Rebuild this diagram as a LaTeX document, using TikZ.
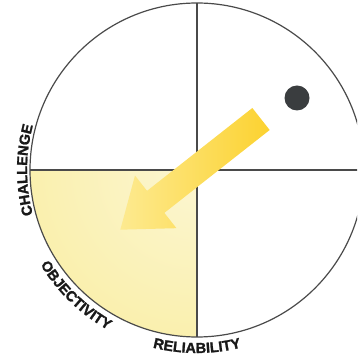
\documentclass[tikz,border=0pt]{standalone}
\usepackage{fontspec}
\setmainfont{Liberation Sans}
\newfontfamily\labelface[BoldFeatures={FakeBold=1.5}]{Liberation Sans}
\usepackage{tikz}
\usetikzlibrary{positioning,calc,decorations.text}

\definecolor{lineGray}{HTML}{4A4A4A}
\definecolor{dotGray}{HTML}{3A3D3F}
\definecolor{quadPale}{HTML}{FCF6D2}
\definecolor{quadYellow}{HTML}{F7EA8A}
\definecolor{arrowHead}{HTML}{FCD230}
\definecolor{arrowTail}{HTML}{FDEA90}
\newcommand{\labelfont}{\labelface\bfseries\fontsize{14.5}{17}\selectfont\color{black!90}}

\begin{document}
\begin{tikzpicture}[x=1pt,y=1pt,
    axis/.style={draw=lineGray,line width=1.2pt},
    arclabel/.style={decorate,decoration={text along path,text align=center,text={|\labelfont|#1}}}]
                        \useasboundingbox (0,0) rectangle (357,358);
                        \clip (0,0) rectangle (357,358);
                        \coordinate (C) at (197,188);
                        \begin{scope}
                            \clip (C) -- ++(-167,0) arc[start angle=180,end angle=270,radius=167] -- cycle;
                            \shade[inner color=quadPale,outer color=quadYellow] (C) circle (334);
                        \end{scope}
                        \draw[axis] (C) ++(0,167) -- ++(0,-334);
                        \draw[axis] (C) ++(-167,0) -- ++(334,0);
                        \draw[axis] (C) circle (167);
                        \fill[dotGray] (297,260) circle (12.5);
                        \begin{scope}[shift={(261,239)},rotate=218.2]
                            \shade[left color=arrowTail,right color=arrowHead]
                                (0,14) -- (134,14) -- (134,33.5) -- (179,0) -- (134,-33.5) -- (134,-14) -- (0,-14) -- cycle;
                        \end{scope}
                        \path[arclabel=CHALLENGE] (C) ++(210:170) arc[start angle=210,end angle=150,radius=170];
                        \path[arclabel=OBJECTIVITY] (C) ++(196:183) arc[start angle=196,end angle=256,radius=183];
                        \path[arclabel=RELIABILITY] (C) ++(240:183) arc[start angle=240,end angle=300,radius=183];
                    \end{tikzpicture}
\end{document}
